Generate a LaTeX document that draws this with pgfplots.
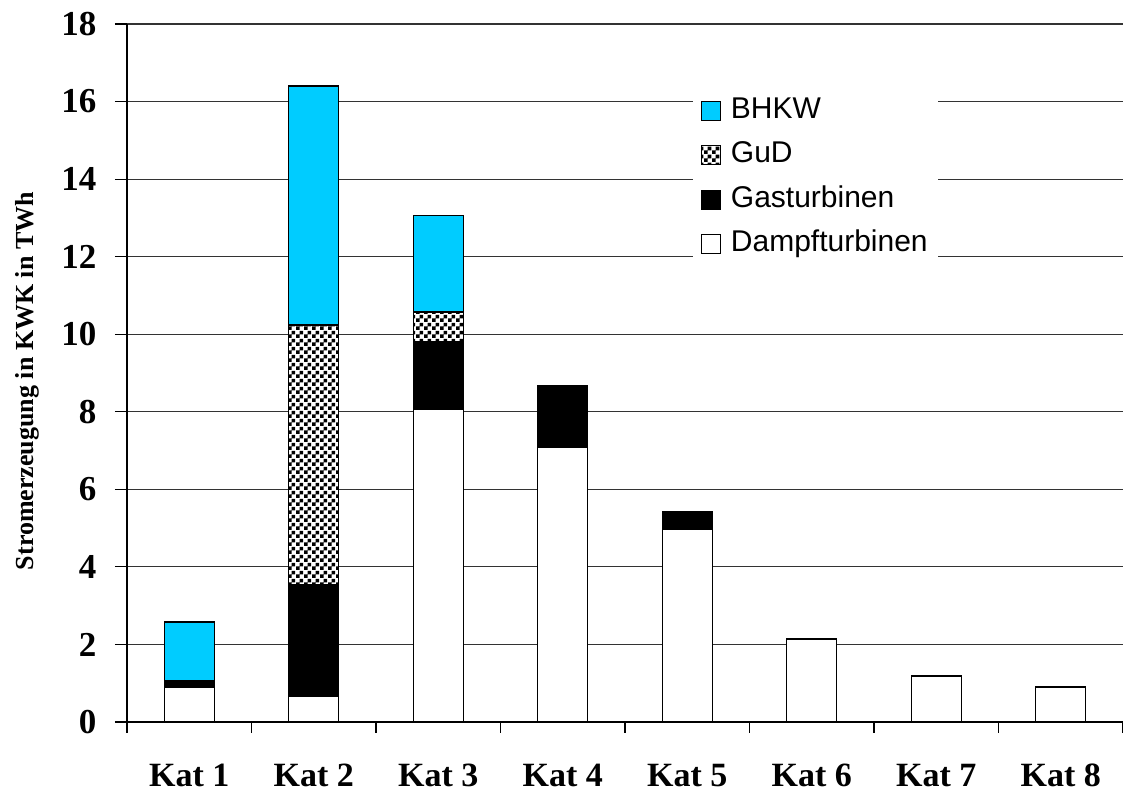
\documentclass[border=0pt]{standalone}
\usepackage{fontspec}
\setmainfont{Liberation Serif}
\newfontfamily\arial{Liberation Sans}
\usepackage{pgfplots}
\pgfplotsset{compat=1.18}
\usetikzlibrary{patterns}
\definecolor{bhkw}{HTML}{00CCFF}
\pgfdeclarepatternformonly{checker}{\pgfpointorigin}{\pgfqpoint{8pt}{8pt}}{\pgfqpoint{8pt}{8pt}}{%
  \pgfpathrectangle{\pgfpointorigin}{\pgfqpoint{4pt}{4pt}}%
  \pgfpathrectangle{\pgfqpoint{4pt}{4pt}}{\pgfqpoint{4pt}{4pt}}%
  \pgfusepath{fill}}
\begin{document}
\begin{tikzpicture}
\begin{axis}[
  scale only axis, width=996pt, height=698pt,
  ybar stacked, bar width=50pt,
  xmin=-0.5, xmax=7.5, ymin=0, ymax=18,
  xtick={0,...,7},
  xticklabels={Kat 1,Kat 2,Kat 3,Kat 4,Kat 5,Kat 6,Kat 7,Kat 8},
  minor xtick={-0.5,0.5,...,7.5},
  ytick={0,2,...,18},
  axis x line*=bottom, axis y line*=left,
  axis line style={line width=1.3pt, black},
  ymajorgrids, grid style={line width=1.2pt, black!80},
  tick style={line width=1.2pt, black},
  major tick length=12pt, minor tick length=11pt,
  tick align=outside,
  major x tick style={draw=none},
  /pgf/number format/assume math mode=true,
  yticklabel style={font=\fontsize{35}{35}\selectfont\bfseries, xshift=-15pt},
  xticklabel style={font=\fontsize{34}{34}\selectfont\bfseries, text height=24pt, text depth=0pt, yshift=-24.5pt},
  ylabel={Stromerzeugung in KWK in TWh},
  ylabel style={font=\fontsize{26}{26}\selectfont\bfseries, at={(axis description cs:-0.1004,0.4885)}, anchor=center},
  reverse legend,
  legend image code/.code={\draw[#1,draw=black,line width=1pt] (1pt,-9.5pt) rectangle (20pt,9.5pt);},
  legend style={at={(rel axis cs:0.568,0.904)}, anchor=north west, draw=none, fill=white,
    font=\arial\fontsize{30}{34}\selectfont, row sep=13.5pt, inner xsep=8pt, inner ysep=4pt,
    nodes={text height=21pt, text depth=6pt},
    /tikz/every odd column/.append style={column sep=8pt}},
  legend cell align=left,
  every axis plot/.append style={draw=black, line width=1.3pt},
]
\addplot[fill=white] coordinates {(0,0.90) (1,0.65) (2,8.05) (3,7.07) (4,4.98) (5,2.14) (6,1.19) (7,0.90)};
\addplot[fill=black] coordinates {(0,0.16) (1,2.88) (2,1.75) (3,1.57) (4,0.44) (5,0) (6,0) (7,0)};
\addplot[fill=white, postaction={pattern=checker}] coordinates {(0,0) (1,6.71) (2,0.77) (3,0.03) (4,0) (5,0) (6,0) (7,0)};
\addplot[fill=bhkw] coordinates {(0,1.52) (1,6.16) (2,2.50) (3,0) (4,0) (5,0) (6,0) (7,0)};
\legend{Dampfturbinen,Gasturbinen,GuD,BHKW}
\end{axis}
\pgfresetboundingbox
\path[use as bounding box] (-127pt,-72pt) rectangle (996pt,722pt);
\end{tikzpicture}
\end{document}
